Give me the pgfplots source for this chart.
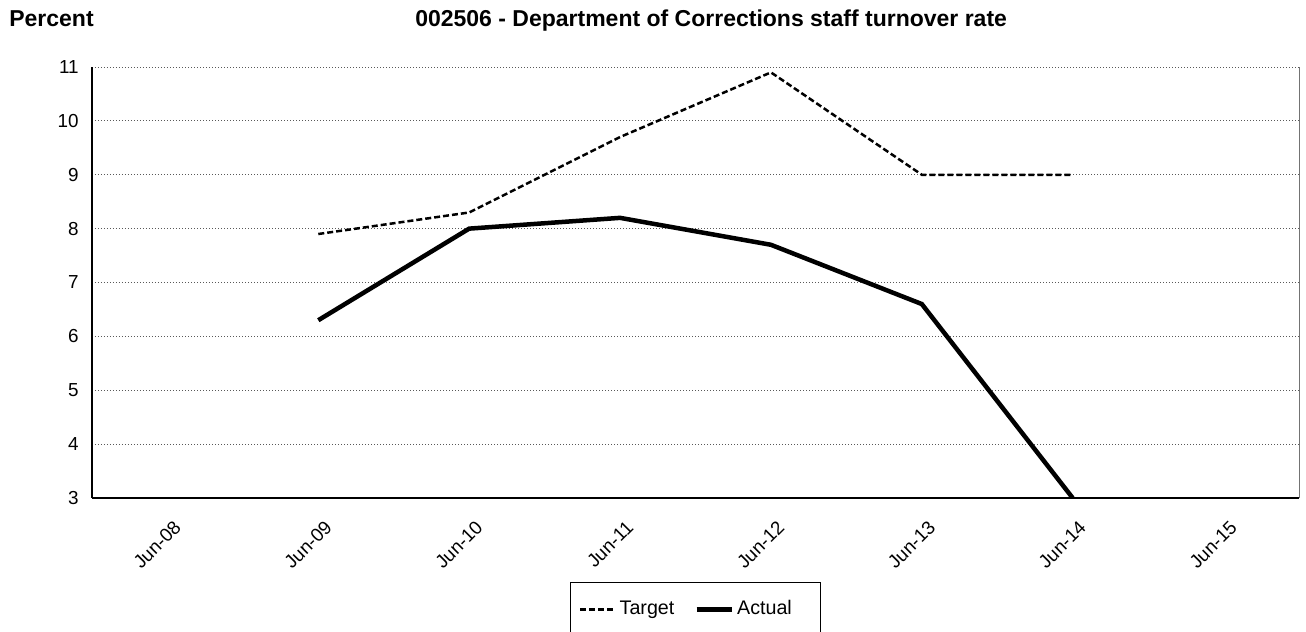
\documentclass[border=0pt]{standalone}
\usepackage{pgfplots}
\pgfplotsset{compat=1.18}
\usepackage{fontspec}
\setmainfont{Liberation Sans}

% 1 px of the reference = 0.6pt
\newcommand{\tickfont}{\fontsize{11.3}{13.5}\selectfont}
\newcommand{\legfont}{\fontsize{11.8}{14}\selectfont}
\newcommand{\titlefont}{\fontsize{13.8}{16.5}\selectfont\bfseries}

\begin{document}
\begin{tikzpicture}
\useasboundingbox (-55.2pt,-80.4pt) rectangle (728.4pt,298.8pt);

\node[anchor=base west, inner sep=0pt, font=\titlefont] at (-49.8pt,282.6pt) {Percent};
\node[anchor=base, inner sep=0pt, font=\titlefont] at (371.5pt,282.6pt)
  {002506 - Department of Corrections staff turnover rate};

\begin{axis}[
    at={(0pt,0pt)}, anchor=south west,
    scale only axis,
    width=724.2pt,
    height=258.6pt,
    xmin=-0.5, xmax=7.5,
    ymin=3, ymax=11,
    xtick={0,1,2,3,4,5,6,7},
    xticklabels={Jun-08,Jun-09,Jun-10,Jun-11,Jun-12,Jun-13,Jun-14,Jun-15},
    ytick={3,4,5,6,7,8,9,10,11},
    major tick length=0pt,
    axis x line*=bottom,
    axis y line*=left,
    axis line style={-, black, line width=1.2pt},
    ymajorgrids=true,
    grid style={black!65, line width=0.6pt, dash pattern=on 0.6pt off 1.2pt},
    ticklabel style={font=\tickfont},
    /pgf/number format/assume math mode=true,
    yticklabel style={xshift=-4.5pt},
    xticklabel style={rotate=45, anchor=north east, xshift=-3.5pt, yshift=-8pt},
    legend columns=2,
    legend style={
        at={(0.5,0)}, anchor=north, yshift=-50.4pt,
        draw=black, line width=0.6pt,
        inner xsep=5pt, inner ysep=9pt,
        font=\legfont,
        nodes={text height=1.6ex, text depth=0.4ex},
        /tikz/every even column/.append style={column sep=10pt},
    },
    legend image code/.code={\draw[#1] (0pt,0pt) -- (21pt,0pt);},
    after end axis/.code={
        \draw[black!55, line width=0.6pt] (rel axis cs:1,0) -- (rel axis cs:1,1);
    },
]
\addplot[black, line width=1.5pt, dash pattern=on 3.6pt off 1.8pt]
    coordinates {
    (1,7.9)
    (2,8.3)
    (3,9.7)
    (4,10.9)
    (5,9.0)
    (6,9.0)
    };
\addplot[black, line width=2.7pt]
    coordinates {
    (1,6.3)
    (2,8.0)
    (3,8.2)
    (4,7.7)
    (5,6.6)
    (6,3.0)
    };
\legend{Target, \makebox[43pt][l]{Actual}}
\end{axis}
\end{tikzpicture}
\end{document}
